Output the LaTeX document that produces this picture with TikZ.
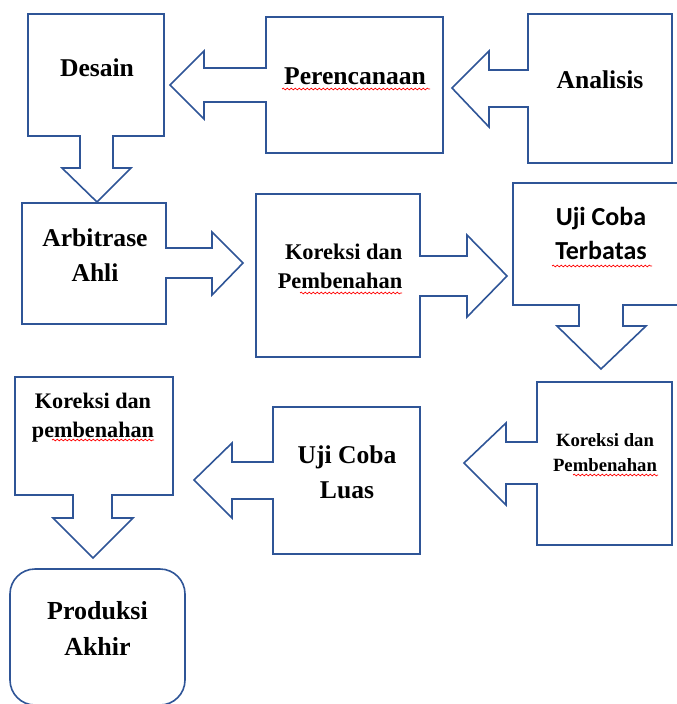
\documentclass[tikz,border=0pt]{standalone}
\usepackage{fontspec}
\setmainfont{Liberation Serif}
\newfontfamily\calibri{Carlito}
\usetikzlibrary{positioning,decorations.pathmorphing}
\definecolor{boxblue}{RGB}{47,85,151}

\begin{document}
\begin{tikzpicture}[x=1pt,y=-1pt,
    box/.style={draw=boxblue,line width=1.6pt,line join=miter},
    lbl/.style 2 args={align=center,inner sep=0pt,font=\bfseries\fontsize{#1}{#2}\selectfont},
    squig/.style={draw=red,line width=0.7pt,decorate,decoration={snake,amplitude=0.9pt,segment length=4pt}}]
  \useasboundingbox (0,0) rectangle (677,704);
  \clip (0,0) rectangle (677,704);
  % top row
  \draw[box] (28,14) -- (164,14) -- (164,136) -- (113,136) -- (113,168) -- (131,168) -- (97,202)
    -- (62,168) -- (80,168) -- (80,136) -- (28,136) -- cycle;
  \draw[box] (266,17) -- (443,17) -- (443,153) -- (266,153) -- (266,102) -- (204,102) -- (204,119)
    -- (170,85) -- (204,51) -- (204,68) -- (266,68) -- cycle;
  \draw[box] (528,14) -- (672,14) -- (672,163) -- (528,163) -- (528,107) -- (489,107) -- (489,127)
    -- (452,88) -- (489,51) -- (489,70) -- (528,70) -- cycle;
  \node[lbl={25.6}{33},anchor=base] (desain) at (97,76) {Desain};
  \node[lbl={25.6}{33},anchor=base] (perencanaan) at (355,84) {Perencanaan};
  \node[lbl={25.6}{33},anchor=base] (analisis) at (600,88) {Analisis};
  % middle row
  \draw[box] (22,203) -- (166,203) -- (166,248) -- (212,248) -- (212,232) -- (243,263) -- (212,295)
    -- (212,278) -- (166,278) -- (166,324) -- (22,324) -- cycle;
  \draw[box] (256,194) -- (420,194) -- (420,256) -- (467,256) -- (467,235) -- (507,276) -- (467,317)
    -- (467,296) -- (420,296) -- (420,357) -- (256,357) -- cycle;
  \draw[box] (513,183) -- (690,183) -- (690,305) -- (623,305) -- (623,326) -- (646,326) -- (601,369)
    -- (557,326) -- (579,326) -- (579,305) -- (513,305) -- cycle;
  \node[lbl={25.6}{35}] (arbitrase) at (95,255) {Arbitrase\\Ahli};
  \node[lbl={22.4}{29},align=right] (koreksi1) at (340,266) {Koreksi dan\\Pembenahan};
  \node[lbl={26}{34},font=\calibri\bfseries\fontsize{26}{34}\selectfont] (terbatas) at (601,233) {Uji Coba\\Terbatas};
  % bottom row
  \draw[box] (537,382) -- (672,382) -- (672,545) -- (537,545) -- (537,484) -- (506,484) -- (506,505)
    -- (464,463) -- (506,423) -- (506,442) -- (537,442) -- cycle;
  \draw[box] (273,407) -- (420,407) -- (420,554) -- (273,554) -- (273,499) -- (232,499) -- (232,518)
    -- (194,480) -- (232,443) -- (232,462) -- (273,462) -- cycle;
  \draw[box] (15,377) -- (173,377) -- (173,495) -- (112,495) -- (112,518) -- (133,518) -- (93,558)
    -- (53,518) -- (73,518) -- (73,495) -- (15,495) -- cycle;
  \draw[box,rounded corners=25pt] (10,569) rectangle (185,705);
  \node[lbl={18.7}{25}] (koreksi2) at (605,453) {Koreksi dan\\Pembenahan};
  \node[lbl={25.6}{35}] (ujiluas) at (347,472) {Uji Coba\\Luas};
  \node[lbl={22.2}{29}] (koreksi3) at (93,418) {Koreksi dan\\pembenahan};
  \node[lbl={26}{36}] (akhir) at (97.5,628) {Produksi\\Akhir};
  % spell-check marks
  \draw[squig] (282,89) -- (430,89);
  \draw[squig] (300,293) -- (402,293);
  \draw[squig] (552,266) -- (652,266);
  \draw[squig] (52,440) -- (154,440);
  \draw[squig] (573,475) -- (658,475);
\end{tikzpicture}
\end{document}
